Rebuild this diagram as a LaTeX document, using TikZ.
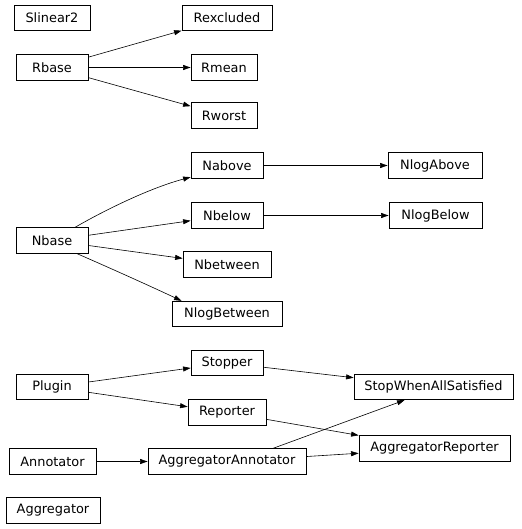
\documentclass[tikz,border=0pt]{standalone}
\usepackage{fontspec}
\setmainfont{DejaVu Sans}
\usetikzlibrary{arrows.meta,calc}
\begin{document}
\begin{tikzpicture}[x=1pt,y=-1pt,
  box/.style={draw, line width=0.8pt, inner sep=0pt, minimum height=25.5pt, font=\fontsize{12.9pt}{14pt}\selectfont},
  edge/.style={line width=0.6pt, -{Triangle[length=7.5pt,width=5pt]}}]
\useasboundingbox (0,0) rectangle (521,529);
\node[box, minimum width=76pt] (Slinear2) at (52,17.75) {Slinear2};
\node[box, minimum width=90pt] (Rexcluded) at (227,17.75) {Rexcluded};
\node[box, minimum width=72pt] (Rbase) at (52,67.5) {Rbase};
\node[box, minimum width=66pt] (Rmean) at (224,67.5) {Rmean};
\node[box, minimum width=66pt] (Rworst) at (224,115.5) {Rworst};
\node[box, minimum width=72pt] (Nabove) at (227,165.5) {Nabove};
\node[box, minimum width=94pt] (NlogAbove) at (435,165.5) {NlogAbove};
\node[box, minimum width=72pt] (Nbelow) at (227,215.5) {Nbelow};
\node[box, minimum width=93pt] (NlogBelow) at (435.5,215.5) {NlogBelow};
\node[box, minimum width=72pt] (Nbase) at (52,240.5) {Nbase};
\node[box, minimum width=88pt] (Nbetween) at (227,264.5) {Nbetween};
\node[box, minimum width=110pt] (NlogBetween) at (227,314) {NlogBetween};
\node[box, minimum width=72pt] (Stopper) at (227,363) {Stopper};
\node[box, minimum width=72pt] (Plugin) at (52,387) {Plugin};
\node[box, minimum width=159pt] (StopWhen) at (433.5,387) {StopWhenAllSatisfied};
\node[box, minimum width=78pt] (Reporter) at (227,412.5) {Reporter};
\node[box, minimum width=151pt] (AggRep) at (434.5,448.5) {AggregatorReporter};
\node[box, minimum width=87pt] (Annotator) at (52.5,461.5) {Annotator};
\node[box, minimum width=158pt] (AggAnn) at (227,461.5) {AggregatorAnnotator};
\node[box, minimum width=94pt] (Aggregator) at (53,510.5) {Aggregator};

\draw[edge] (Rbase) -- (Rexcluded);
\draw[edge] (Rbase) -- (Rmean);
\draw[edge] (Rbase) -- (Rworst);
\draw[edge] ($(Nbase.north)+(23,0)$) .. controls (105,210) and (150,188) .. ($(Nabove.south west)+(0,-1.5)$);
\draw[edge] (Nbase) -- (Nbelow);
\draw[edge] (Nbase) -- (Nbetween);
\draw[edge] ($(Nbase.south)+(25,0)$) .. controls (110,268) and (150,286) .. ($(NlogBetween.north west)+(10,0)$);
\draw[edge] (Nabove) -- (NlogAbove);
\draw[edge] (Nbelow) -- (NlogBelow);
\draw[edge] (Plugin) -- (Stopper);
\draw[edge] (Plugin) -- (Reporter);
\draw[edge] (Stopper) -- (StopWhen);
\draw[edge] (Reporter) -- (AggRep);
\draw[edge] ($(AggAnn.north)+(46,0)$) -- ($(StopWhen.south)+(-29,0)$);
\draw[edge] (AggAnn) -- (AggRep);
\draw[edge] (Annotator) -- (AggAnn);
\end{tikzpicture}
\end{document}
